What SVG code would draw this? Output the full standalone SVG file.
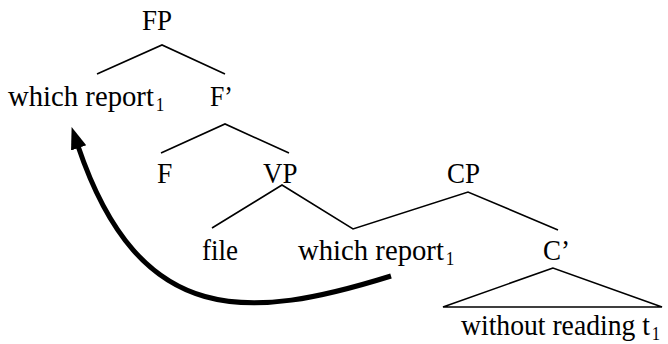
<svg xmlns="http://www.w3.org/2000/svg" width="668" height="344" viewBox="0 0 668 344">
<style>
text{font-family:"Liberation Serif","Times New Roman",serif;font-size:30px;fill:#000}
.sub{font-size:18px}
.edge{stroke:#000;stroke-width:1.6;fill:none}
.move{stroke:#000;stroke-width:5;fill:none}
</style>
<defs>
<marker id="ah" markerUnits="userSpaceOnUse" markerWidth="24" markerHeight="24" refX="2" refY="10" orient="auto" viewBox="0 0 24 20">
<path d="M0,2 L22,10 L0,18 Z" fill="#000"/>
</marker>
</defs>
<rect width="668" height="344" fill="#fff"/>
<g id="connectors">
<polyline class="edge" points="97,74 162,45 225,74"/>
<polyline class="edge" points="161,153 225,124 289,153"/>
<polyline class="edge" points="212,228 282,185 353,229 468,192 558,230"/>
<polygon class="edge" points="553,268 443,307 662,307"/>
<path class="move" d="M391,276 C250,320 140,330 78,146" marker-end="url(#ah)"/>
</g>
<g id="n-FP"><text transform="translate(142,30) scale(0.9,1)">FP</text></g>
<g id="n-which1"><text transform="translate(8,106) scale(0.957,1)">which report<tspan class="sub" dx="2" dy="5">1</tspan></text></g>
<g id="n-Fbar"><text transform="translate(210,106) scale(0.86,1)">F’</text></g>
<g id="n-F"><text transform="translate(157,183) scale(0.92,1)">F</text></g>
<g id="n-VP"><text transform="translate(263,183) scale(0.9,1)">VP</text></g>
<g id="n-CP"><text transform="translate(447,183) scale(0.9,1)">CP</text></g>
<g id="n-file"><text transform="translate(202,260) scale(0.9,1)">file</text></g>
<g id="n-which2"><text transform="translate(298,260) scale(0.957,1)">which report<tspan class="sub" dx="2" dy="5">1</tspan></text></g>
<g id="n-Cbar"><text transform="translate(543,260) scale(0.9,1)">C’</text></g>
<g id="n-without"><text transform="translate(461,335) scale(0.922,1)">without reading t<tspan class="sub" dx="2" dy="5">1</tspan></text></g>
</svg>
